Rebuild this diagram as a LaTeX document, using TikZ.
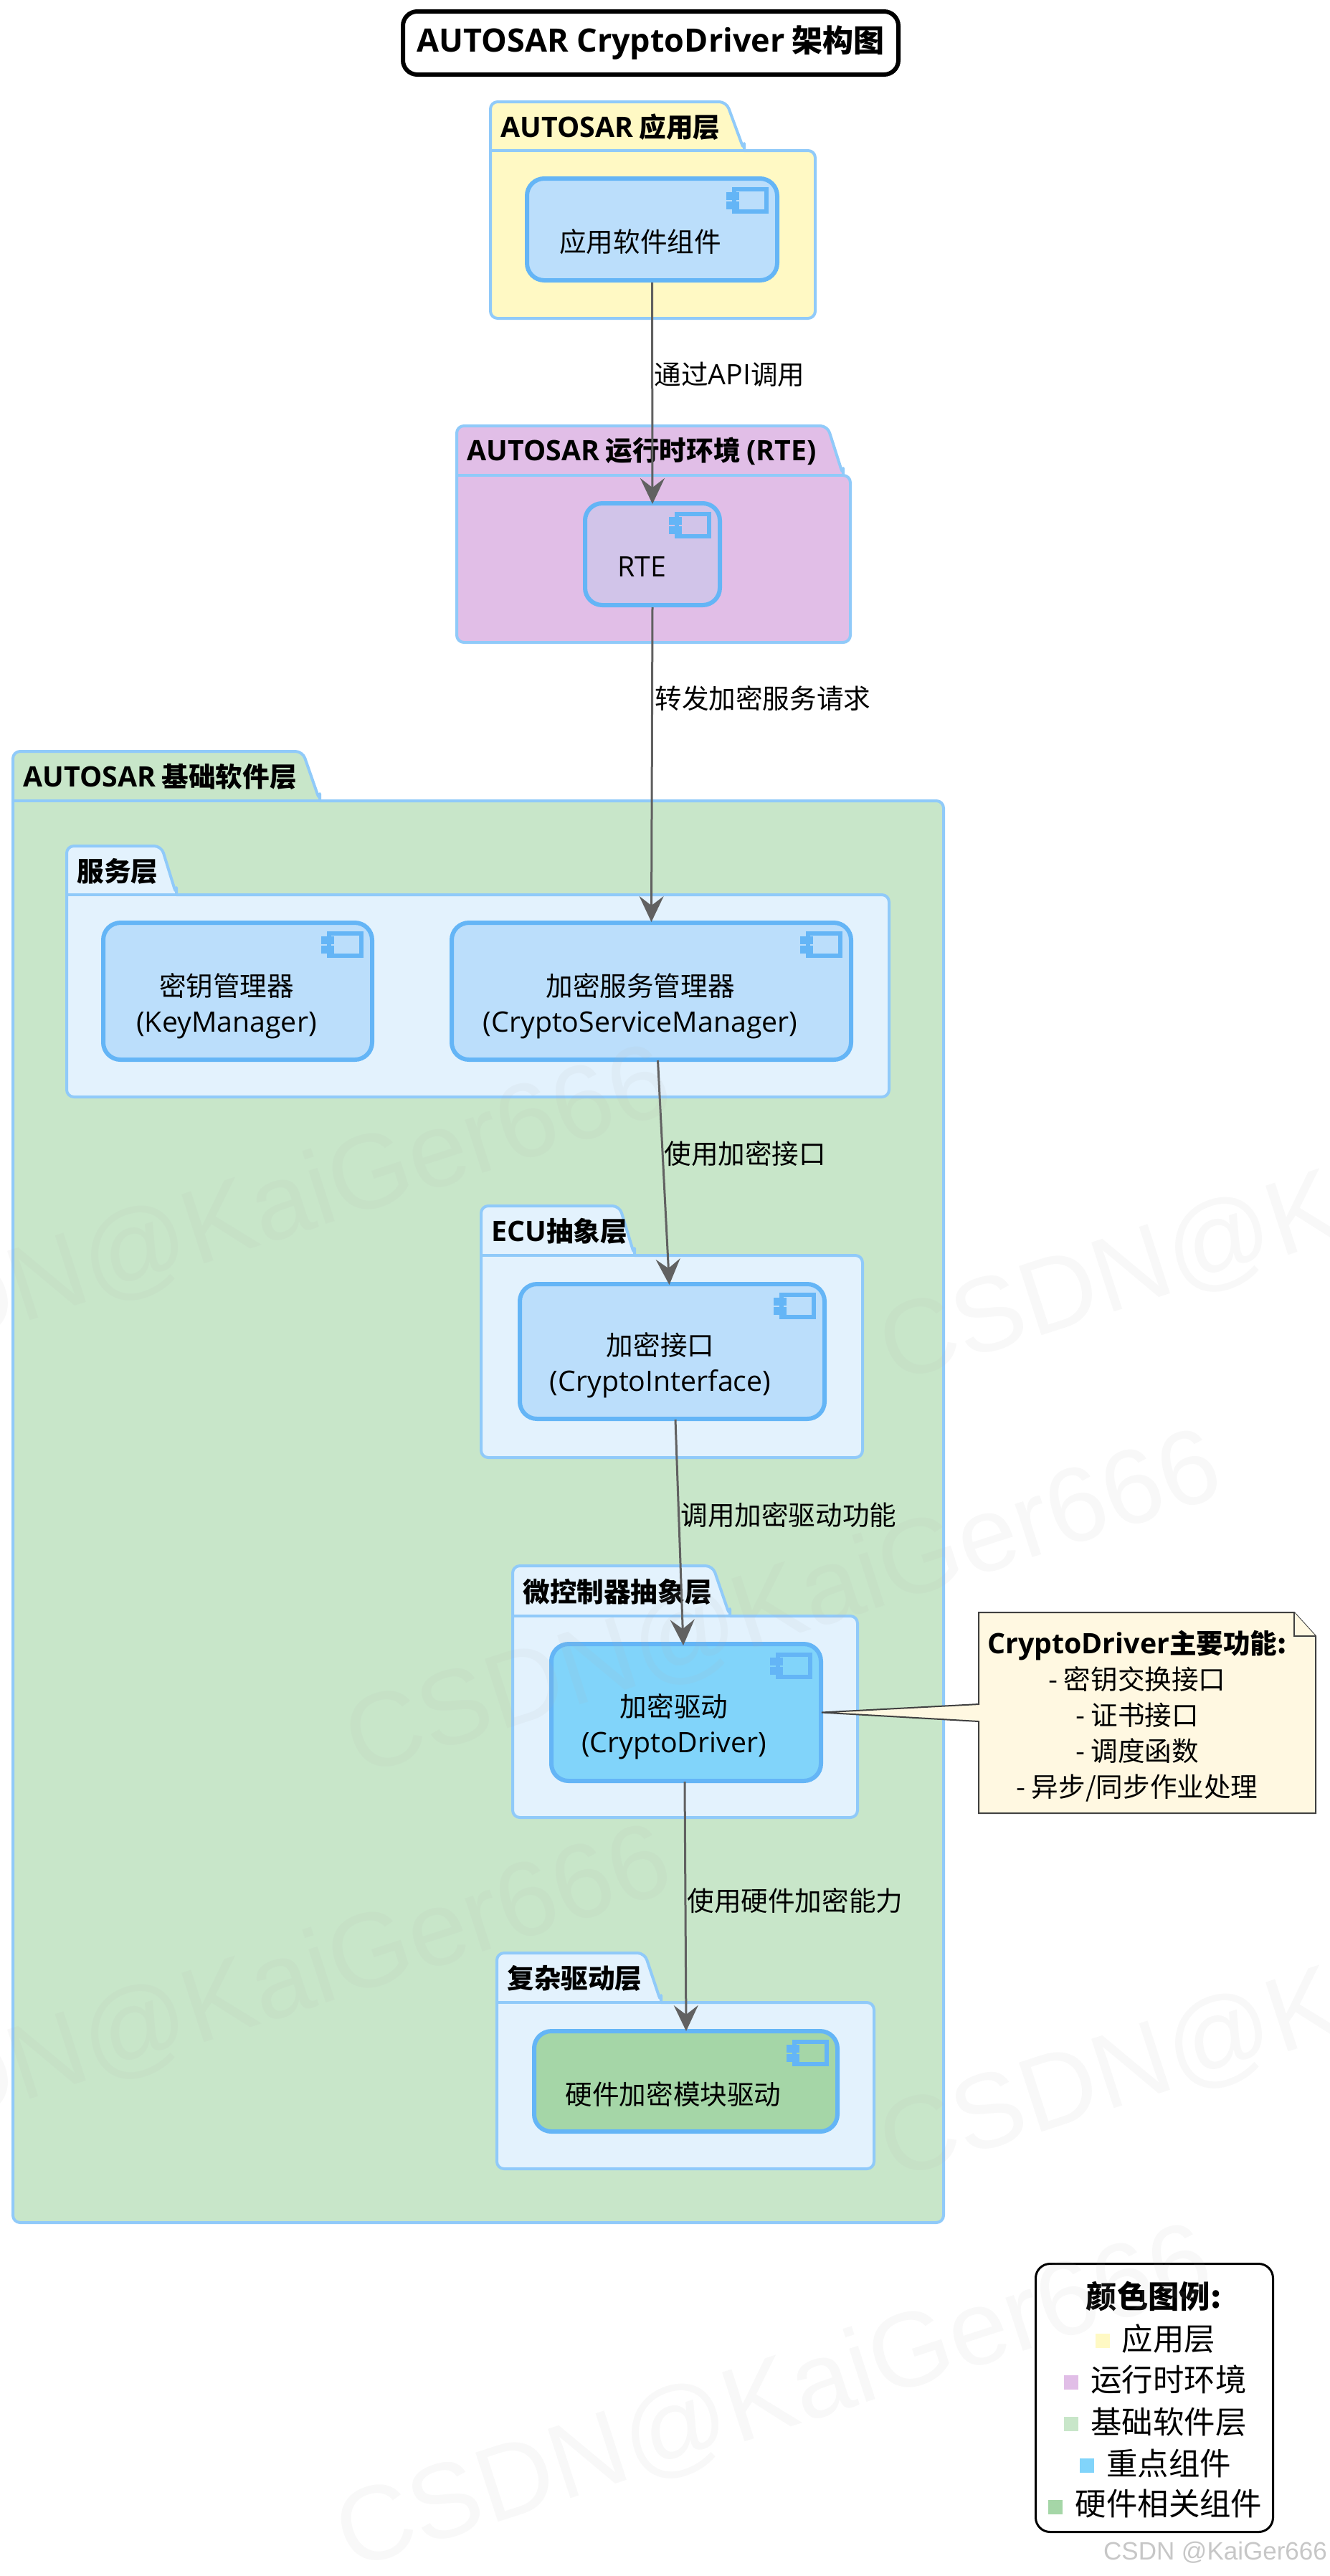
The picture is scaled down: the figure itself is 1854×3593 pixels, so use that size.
\documentclass[tikz,border=0pt]{standalone}
\usepackage{fontspec}
\setmainfont{Noto Sans CJK SC}
\newfontfamily\latf[Scale=1.045]{Open Sans}
\newfontfamily\wmf{Liberation Sans}
\newcommand\La[1]{{\latf #1}}
\usetikzlibrary{arrows.meta,calc}
\definecolor{pkgline}{HTML}{90CAF9}
\definecolor{compline}{HTML}{64B5F6}
\definecolor{appfill}{HTML}{FFF9C4}
\definecolor{rtefill}{HTML}{E1BEE7}
\definecolor{basefill}{HTML}{C8E6C9}
\definecolor{innerfill}{HTML}{E3F2FD}
\definecolor{compfill}{HTML}{BBDEFB}
\definecolor{rtecomp}{HTML}{D1C4E9}
\definecolor{keycomp}{HTML}{81D4FA}
\definecolor{hwcomp}{HTML}{A5D6A7}
\definecolor{notefill}{HTML}{FFF8E1}
\definecolor{connc}{HTML}{616161}
\tikzset{
  x=0.5pt,y=-0.5pt,
  pkgbody/.style={draw=pkgline,line width=2pt,line join=round},
  pkglabel/.style={anchor=west,inner sep=0pt,font=\fontsize{18.8}{24}\selectfont\bfseries},
  comp/.style={draw=compline,line width=3pt,rounded corners=12pt,inner sep=0pt},
  comptext/.style={inner sep=0pt,align=center,font=\fontsize{18.8}{25}\selectfont},
  edgetext/.style={anchor=west,inner sep=0pt,font=\fontsize{18.8}{24}\selectfont},
  conn/.style={draw=connc,line width=1.5pt,-{Stealth[length=18pt,width=17pt,inset=6.5pt,fill=connc]}},
  iconline/.style={draw=compline,line width=3pt},
  iconfill/.style={fill=compline},
  titlebox/.style={draw=black,line width=3pt,rounded corners=10pt,fill=white,inner sep=0pt,font=\fontsize{21.5}{26}\selectfont\bfseries},
  legendbox/.style={draw=black,line width=1.5pt,rounded corners=10pt,fill=white,inner sep=0pt},
  legendtext/.style={inner sep=0pt,font=\fontsize{21.7}{26}\selectfont},
  legendsq/.style={inner sep=0pt,minimum size=10pt},
  notebody/.style={draw=black!75,line width=1pt,fill=notefill,line join=miter},
  notetext/.style={inner sep=0pt,align=center,font=\fontsize{18.8}{25}\selectfont},
  wmark/.style={inner sep=0pt,rotate=18,text=black!30,text opacity=0.09,font=\wmf\fontsize{73.7}{76}\selectfont},
}
% name, left, tabtop, tabtopright, tabbotright, bodytop, right, bottom, fill, label
\newcommand\Pkg[9]{%
  \def\pL{#2}\def\pT{#3}\def\pTR{#4}\def\pBR{#5}\def\pB{#6}\def\pR{#7}\def\pBot{#8}%
  \path[pkgbody,fill=#9,rounded corners=5pt] (\pL,\pBot) -- (\pL,\pT) -- (\pTR,\pT) -- (\pBR,\pB) [sharp corners] -- (\pBR,\pB) [rounded corners=5pt] -- (\pR,\pB) -- (\pR,\pBot) -- cycle;
  \draw[pkgbody] (\pL,\pB) -- (\pBR,\pB);
  \pgfmathsetmacro\pY{(\pT+\pB)/2+1}\pgfmathsetmacro\pX{\pL+14}%
  \coordinate (#1) at (\pX,\pY);
}
% name,x1,y1,x2,y2,fill
\newcommand\Comp[6]{%
  \pgfmathsetmacro\cW{(#4-#2-6)*0.5}\pgfmathsetmacro\cH{(#5-#3-6)*0.5}%
  \node[comp,fill=#6,minimum width=\cW pt,minimum height=\cH pt] (#1) at ({(#2+#4)/2},{(#3+#5)/2}) {};
  \begin{scope}[shift={(#1.north east)}]
    \draw[iconline] (-18,18) rectangle (-63,49);
    \fill[iconfill] (-74,22) rectangle (-56,33);
    \fill[iconfill] (-74,35) rectangle (-56,46);
  \end{scope}
}
\begin{document}
\begin{tikzpicture}
\useasboundingbox (0,0) rectangle (1854,3593);
\fill[white] (0,0) rectangle (1854,3593);

% title
\node[titlebox,minimum width=345.5pt,minimum height=44pt] (title) at (907.5,60) {\La{AUTOSAR CryptoDriver} 架构图};

% packages
\Pkg{pa}{684}{142}{1013}{1038}{210}{1137}{444}{appfill}
\node[pkglabel] (pal) at (pa) {\La{AUTOSAR} 应用层};
\Pkg{pr}{637}{594}{1154}{1176}{663}{1186}{896}{rtefill}
\node[pkglabel] (prl) at (pr) {\La{AUTOSAR} 运行时环境 \La{(RTE)}};
\Pkg{pb}{18}{1048}{422}{446}{1117}{1316}{3100}{basefill}
\node[pkglabel] (pbl) at (pb) {\La{AUTOSAR} 基础软件层};
\Pkg{ps}{93}{1180}{225}{246}{1248}{1240}{1530}{innerfill}
\node[pkglabel] (psl) at (ps) {服务层};
\Pkg{pe}{671}{1682}{864}{885}{1751}{1203}{2033}{innerfill}
\node[pkglabel] (pel) at (pe) {\La{ECU}抽象层};
\Pkg{pm}{715}{2184}{994}{1018}{2254}{1196}{2535}{innerfill}
\node[pkglabel] (pml) at (pm) {微控制器抽象层};
\Pkg{pc}{693}{2724}{899}{922}{2793}{1219}{3025}{innerfill}
\node[pkglabel] (pcl) at (pc) {复杂驱动层};

% components
\Comp{app}{732}{246}{1087}{394}{compfill}
\node[comptext] (appt) at (893,337) {应用软件组件};
\Comp{rte}{813}{699}{1007}{847}{rtecomp}
\node[comptext] (rtet) at (895,790) {\La{RTE}};
\Comp{key}{141}{1284}{522}{1481}{compfill}
\node[comptext] (keyt) at (316,1403) {密钥管理器\\\La{(KeyManager)}};
\Comp{csm}{627}{1284}{1190}{1481}{compfill}
\node[comptext] (csmt) at (893,1403) {加密服务管理器\\\La{(CryptoServiceManager)}};
\Comp{ecu}{722}{1788}{1153}{1982}{compfill}
\node[comptext] (ecut) at (921,1904) {加密接口\\\La{(CryptoInterface)}};
\Comp{drv}{766}{2290}{1148}{2487}{keycomp}
\node[comptext] (drvt) at (940,2408) {加密驱动\\\La{(CryptoDriver)}};
\Comp{hw}{742}{2830}{1171}{2976}{hwcomp}
\node[comptext] (hwt) at (939,2921) {硬件加密模块驱动};

% connectors
\draw[conn] (app.south) -- ($(rte.north)+(0,4)$);
\draw[conn] (rte.south) -- ($(csm.north)+(0,2)$);
\draw[conn] ($(csm.south)+(9,-2)$) -- ($(ecu.north)+(-4,4)$);
\draw[conn] ($(ecu.south)+(4.5,-2)$) -- ($(drv.north)+(-4,5)$);
\draw[conn] ($(drv.south)+(-2,-2)$) -- ($(hw.north)+(0.5,3)$);

% edge labels
\node[edgetext] (e1) at (912,522) {通过\La{API}调用};
\node[edgetext] (e2) at (913,974) {转发加密服务请求};
\node[edgetext] (e3) at (926,1609) {使用加密接口};
\node[edgetext] (e4) at (949,2113) {调用加密驱动功能};
\node[edgetext] (e5) at (958,2651) {使用硬件加密能力};

% note
\coordinate (notetip) at (drv.east);
\draw[notebody] (1365,2249) -- (1805,2249) -- (1835,2282) -- (1835,2529) -- (1365,2529) -- (1365,2401) -- ($(notetip)+(-2,0)$) -- (1365,2377) -- cycle;
\draw[notebody] (1805,2249) -- (1805,2282) -- (1835,2282);
\node[notetext] (notet) at (1586,2394) {\textbf{\La{CryptoDriver}主要功能:}\\- 密钥交换接口\\- 证书接口\\- 调度函数\\- 异步/同步作业处理};

% legend
\node[legendbox,minimum width=165.5pt,minimum height=187pt] (legend) at (1610,3344.5) {};
\node[legendtext] (lg0) at (1609,3203) {\textbf{颜色图例:}};
\node[legendtext] (lg1) at (1630,3262) {应用层};
\node[legendtext] (lg2) at (1630,3319) {运行时环境};
\node[legendtext] (lg3) at (1630,3378) {基础软件层};
\node[legendtext] (lg4) at (1630,3436) {重点组件};
\node[legendtext] (lg5) at (1630,3492) {硬件相关组件};
\node[legendsq,fill=appfill] (sq1) at (1538,3265) {};
\node[legendsq,fill=rtefill] (sq2) at (1494,3323) {};
\node[legendsq,fill=basefill] (sq3) at (1494,3381) {};
\node[legendsq,fill=keycomp] (sq4) at (1516,3439) {};
\node[legendsq,fill=hwcomp] (sq5) at (1472,3497) {};

% watermarks
\begin{scope}
\clip (0,0) rectangle (1854,3593);
\node[wmark] (w1) at (1080,3347) {CSDN@KaiGer666};
\node[wmark] (w2) at (1093,2240) {CSDN@KaiGer666};
\node[wmark] (w3) at (1838,1692) {CSDN@KaiGer666};
\node[wmark] (w4) at (326,1704) {CSDN@KaiGer666};
\node[wmark] (w5) at (326,2790) {CSDN@KaiGer666};
\node[wmark] (w6) at (1838,2803) {CSDN@KaiGer666};
\end{scope}

\node[inner sep=0pt,text=black!22,font=\wmf\fontsize{17.5}{20}\selectfont] (csdn) at (1695,3560) {CSDN @KaiGer666};
\end{tikzpicture}
\end{document}
